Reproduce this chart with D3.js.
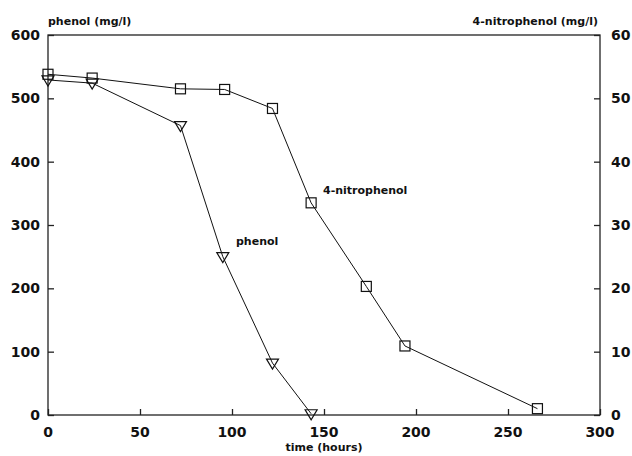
<!DOCTYPE html>
<html><head><meta charset="utf-8">
<script src="https://cdn.jsdelivr.net/npm/d3@7"></script>
<style>
html,body{margin:0;padding:0;background:#fff;}
text{font-family:"DejaVu Sans",sans-serif;font-weight:bold;fill:#111;}
</style></head>
<body>
<svg id="c" width="632" height="456"></svg>
<script>
// Data
const phenolTime = [0, 24, 72, 95, 122, 143];
const phenolValues = [529, 524, 457, 250, 82, 2];
const nitroTime = [0, 24, 72, 96, 122, 143, 173, 194, 266];
const nitroValues = [53.8, 53.2, 51.5, 51.4, 48.4, 33.5, 20.3, 10.9, 1.0];
const xTicks = [0, 50, 100, 150, 200, 250, 300];
const leftTicks = [0, 100, 200, 300, 400, 500, 600];
const rightTicks = [0, 10, 20, 30, 40, 50, 60];

const svg = d3.select("#c");
const L = 48, R = 600, T = 35, B = 415;
const x = d3.scaleLinear().domain([0, 300]).range([L, R]);
const yL = d3.scaleLinear().domain([0, 600]).range([B, T]);
const yR = d3.scaleLinear().domain([0, 60]).range([B, T]);

// frame
svg.append("rect").attr("x", L).attr("y", T).attr("width", R - L).attr("height", B - T)
  .attr("fill", "none").attr("stroke", "#222").attr("stroke-width", 1.3);

// axes
const ax = svg.append("g").attr("transform", `translate(0,${B})`)
  .call(d3.axisTop(x).tickValues(xTicks).tickSize(6).tickFormat(""));
const axLabels = svg.append("g");
axLabels.selectAll("text").data(xTicks).join("text")
  .attr("x", d => x(d)).attr("y", 437).attr("text-anchor", "middle")
  .attr("font-size", 14).text(d => d);

const ayL = svg.append("g").attr("transform", `translate(${L},0)`)
  .call(d3.axisRight(yL).tickValues(leftTicks).tickSize(6).tickFormat(""));
svg.append("g").selectAll("text").data(leftTicks).join("text")
  .attr("x", 40).attr("y", d => yL(d) + 5).attr("text-anchor", "end")
  .attr("font-size", 14).text(d => d);

const ayR = svg.append("g").attr("transform", `translate(${R},0)`)
  .call(d3.axisLeft(yR).tickValues(rightTicks).tickSize(6).tickFormat(""));
svg.append("g").selectAll("text").data(rightTicks).join("text")
  .attr("x", 611).attr("y", d => yR(d) + 5).attr("text-anchor", "start")
  .attr("font-size", 14).text(d => d);

[ax, ayL, ayR].forEach(g => {
  g.select(".domain").remove();
  g.selectAll("line").attr("stroke", "#222").attr("stroke-width", 1.3);
});

// titles
svg.append("text").attr("x", 48).attr("y", 25).attr("font-size", 11).text("phenol (mg/l)");
svg.append("text").attr("x", 598).attr("y", 25).attr("font-size", 11).attr("text-anchor", "end").text("4-nitrophenol (mg/l)");
svg.append("text").attr("x", 324).attr("y", 451).attr("font-size", 11).attr("text-anchor", "middle").text("time (hours)");

// series
const phenol = phenolTime.map((t, i) => [t, phenolValues[i]]);
const nitro = nitroTime.map((t, i) => [t, nitroValues[i]]);

svg.append("path").datum(phenol)
  .attr("d", d3.line().x(d => x(d[0])).y(d => yL(d[1])))
  .attr("fill", "none").attr("stroke", "#111").attr("stroke-width", 1);
svg.append("path").datum(nitro)
  .attr("d", d3.line().x(d => x(d[0])).y(d => yR(d[1])))
  .attr("fill", "none").attr("stroke", "#111").attr("stroke-width", 1);

// markers
svg.append("g").selectAll("path").data(phenol).join("path")
  .attr("transform", d => `translate(${x(d[0])},${yL(d[1])})`)
  .attr("d", "M-6,-4L6,-4L0,6Z")
  .attr("fill", "none").attr("stroke", "#111").attr("stroke-width", 1.2);
svg.append("g").selectAll("rect").data(nitro).join("rect")
  .attr("x", d => x(d[0]) - 5).attr("y", d => yR(d[1]) - 5)
  .attr("width", 10).attr("height", 10)
  .attr("fill", "none").attr("stroke", "#111").attr("stroke-width", 1.2);

// series labels
svg.append("text").attr("x", 323).attr("y", 194).attr("font-size", 11).text("4-nitrophenol");
svg.append("text").attr("x", 236).attr("y", 245).attr("font-size", 11).text("phenol");
</script>
</body></html>
